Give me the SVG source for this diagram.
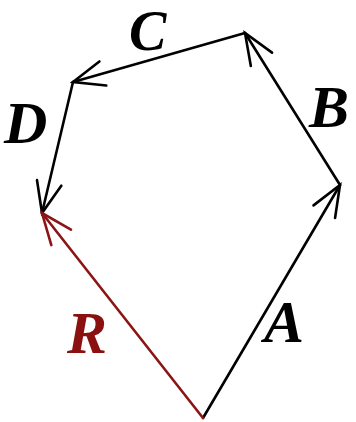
<svg xmlns="http://www.w3.org/2000/svg" width="356" height="422" viewBox="0 0 356 422">
<style>
.v{fill:none;stroke-width:2.6;stroke-linecap:round}
.k{stroke:#000}
.r{stroke:#8b1515}
text{font-family:"Liberation Serif","Times New Roman",serif;font-weight:bold;font-style:italic;font-size:60px}
</style>
<defs>
<marker id="ak" markerUnits="userSpaceOnUse" viewBox="-33 -14 36 28" refX="0" refY="0" markerWidth="36" markerHeight="28" orient="auto"><path d="M-31,-12.5 L0,0 L-31,12.5" fill="none" stroke="#000" stroke-width="2.6" stroke-linecap="round"/></marker>
<marker id="ar" markerUnits="userSpaceOnUse" viewBox="-33 -14 36 28" refX="0" refY="0" markerWidth="36" markerHeight="28" orient="auto"><path d="M-31,-12.5 L0,0 L-31,12.5" fill="none" stroke="#8b1515" stroke-width="2.6" stroke-linecap="round"/></marker>
</defs>
<rect width="356" height="422" fill="#fff"/>
<g id="connectors">
<line id="A" class="v k" x1="203" y1="418" x2="340" y2="185" marker-end="url(#ak)"/>
<line id="B" class="v k" x1="340" y1="185" x2="245" y2="33" marker-end="url(#ak)"/>
<line id="C" class="v k" x1="245" y1="33" x2="73" y2="82" marker-end="url(#ak)"/>
<line id="D" class="v k" x1="73" y1="82" x2="42" y2="213" marker-end="url(#ak)"/>
<line id="R" class="v r" x1="203" y1="418" x2="42" y2="213" marker-end="url(#ar)"/>
</g>
<g id="labels">
<text x="264" y="342">A</text>
<text x="309" y="127">B</text>
<text x="129" y="50" style="font-size:56px">C</text>
<text x="4" y="143">D</text>
<text x="67" y="353" fill="#8b1010">R</text>
</g>
</svg>
